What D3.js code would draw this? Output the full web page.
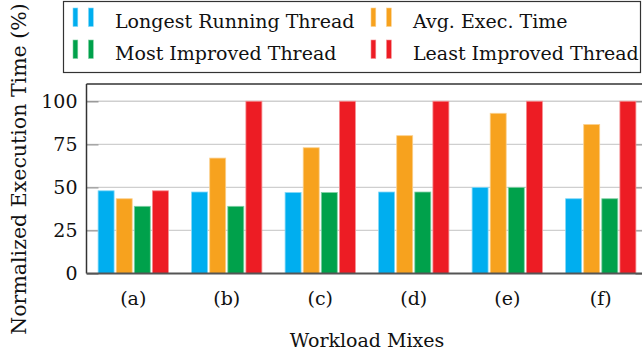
<!DOCTYPE html>
<html>
<head>
<meta charset="utf-8">
<script src="https://cdn.jsdelivr.net/npm/d3@7"></script>
<style>
  html, body { margin: 0; padding: 0; background: #fff; }
  svg text { font-family: "DejaVu Serif", "Liberation Serif", serif; fill: #111; }
</style>
</head>
<body>
<svg id="chart" width="642" height="356"></svg>
<script>
// Workload mixes on the x axis
const categories = ["(a)", "(b)", "(c)", "(d)", "(e)", "(f)"];

// Normalized execution time (%) per series
const longestRunning = [48, 47.3, 47, 47.3, 50, 43.4];
const avgExecTime    = [43.4, 67, 73, 80, 93, 86.5];
const mostImproved   = [39, 39, 47, 47.3, 50, 43.4];
const leastImproved  = [48, 100, 100, 100, 100, 100];

const seriesNames  = ["Longest Running Thread", "Avg. Exec. Time", "Most Improved Thread", "Least Improved Thread"];
const seriesValues = [longestRunning, avgExecTime, mostImproved, leastImproved];
const seriesColors = ["#00aeef", "#f7a21e", "#00a14b", "#ed1c24"];
const seriesEdges  = ["#80d7f7", "#fbd08e", "#80d0a5", "#f68e91"];

const yTicks = [0, 25, 50, 75, 100];

const svg = d3.select("#chart");

const plot = { left: 86.5, right: 647.5, top: 84, bottom: 273.5 };

const x0 = d3.scaleBand().domain(categories).range([plot.left, plot.right]);
const x1 = d3.scaleBand().domain(d3.range(seriesNames.length)).range([-35.15, 35.15]).paddingInner(0.116);
const y = d3.scaleLinear().domain([0, 110]).range([plot.bottom, plot.top]);

svg.append("defs").append("clipPath").attr("id", "plotClip")
  .append("rect").attr("x", plot.left).attr("y", plot.top - 2)
  .attr("width", plot.right - plot.left).attr("height", plot.bottom - plot.top + 4);

const g = svg.append("g").attr("clip-path", "url(#plotClip)");

// horizontal grid lines
g.append("g").selectAll("line").data(yTicks.filter(d => d > 0)).join("line")
  .attr("x1", plot.left).attr("x2", plot.right)
  .attr("y1", d => y(d)).attr("y2", d => y(d))
  .attr("stroke", "#cfcfcf").attr("stroke-width", 1.3);

// tick marks on both vertical sides
const yAxisL = d3.axisRight(y).tickValues(yTicks).tickSize(12).tickFormat("");
const yAxisR = d3.axisLeft(y).tickValues(yTicks).tickSize(12).tickFormat("");
const axL = g.append("g").attr("transform", `translate(${plot.left},0)`).call(yAxisL);
const axR = g.append("g").attr("transform", `translate(${plot.right},0)`).call(yAxisR);
[axL, axR].forEach(a => {
  a.select(".domain").remove();
  a.selectAll("line").attr("stroke", "#9a9a9a").attr("stroke-width", 1.3);
});

// bars
const groups = g.append("g").selectAll("g").data(categories).join("g")
  .attr("transform", d => `translate(${x0(d) + x0.bandwidth() / 2},0)`);

groups.selectAll("rect")
  .data((c, ci) => seriesValues.map((vals, si) => ({ si, v: vals[ci] })))
  .join("rect")
  .attr("x", d => x1(d.si))
  .attr("width", x1.bandwidth())
  .attr("y", d => y(d.v))
  .attr("height", d => y(0) - y(d.v))
  .attr("fill", d => seriesColors[d.si])
  .attr("stroke", d => seriesEdges[d.si])
  .attr("stroke-width", 0.8);

// frame
svg.append("line").attr("x1", plot.left).attr("x2", plot.right)
  .attr("y1", plot.top).attr("y2", plot.top).attr("stroke", "#333").attr("stroke-width", 1.3);
svg.append("line").attr("x1", plot.left).attr("x2", plot.left)
  .attr("y1", plot.top).attr("y2", plot.bottom).attr("stroke", "#333").attr("stroke-width", 1.5);
svg.append("line").attr("x1", plot.left).attr("x2", plot.right)
  .attr("y1", plot.bottom).attr("y2", plot.bottom).attr("stroke", "#555").attr("stroke-width", 2);

// y tick labels
const yAxisText = d3.axisLeft(y).tickValues(yTicks).tickSize(0).tickPadding(9);
const yt = svg.append("g").attr("transform", `translate(${plot.left},0)`).call(yAxisText);
yt.select(".domain").remove();
yt.selectAll("text").style("font-size", "19px").attr("fill", "#111")
  .style("font-family", "'DejaVu Serif', serif");

// x tick labels
const xAxisText = d3.axisBottom(x0).tickSize(0).tickPadding(18);
const xt = svg.append("g").attr("transform", `translate(0,${plot.bottom})`).call(xAxisText);
xt.select(".domain").remove();
xt.selectAll("text").style("font-size", "19px").attr("fill", "#111")
  .style("font-family", "'DejaVu Serif', serif");

// axis titles
svg.append("text").attr("x", (plot.left + plot.right) / 2).attr("y", 347)
  .attr("text-anchor", "middle").style("font-size", "19px").text("Workload Mixes");
svg.append("text").attr("transform", `translate(26,169) rotate(-90)`)
  .attr("text-anchor", "middle").style("font-size", "20.5px").text("Normalized Execution Time (%)");

// legend
const legend = svg.append("g");
legend.append("rect").attr("x", 63.5).attr("y", 1.5).attr("width", 577).attr("height", 71)
  .attr("fill", "#fff").attr("stroke", "#333").attr("stroke-width", 1.2);

const legendItems = legend.selectAll("g.item").data(seriesNames).join("g")
  .attr("class", "item")
  .attr("transform", (d, i) => `translate(${63.5 + (i % 2) * 298},${Math.floor(i / 2) * 32})`);

legendItems.each(function (d, i) {
  const it = d3.select(this);
  [9.5, 25].forEach(dx => {
    it.append("rect").attr("x", dx).attr("y", 8).attr("width", 4.8).attr("height", 18.5)
      .attr("fill", seriesColors[i]).attr("stroke", seriesEdges[i]).attr("stroke-width", 0.6);
  });
  it.append("text").attr("x", 51.5).attr("y", 27.5).style("font-size", "19px").text(d);
});
</script>
</body>
</html>
